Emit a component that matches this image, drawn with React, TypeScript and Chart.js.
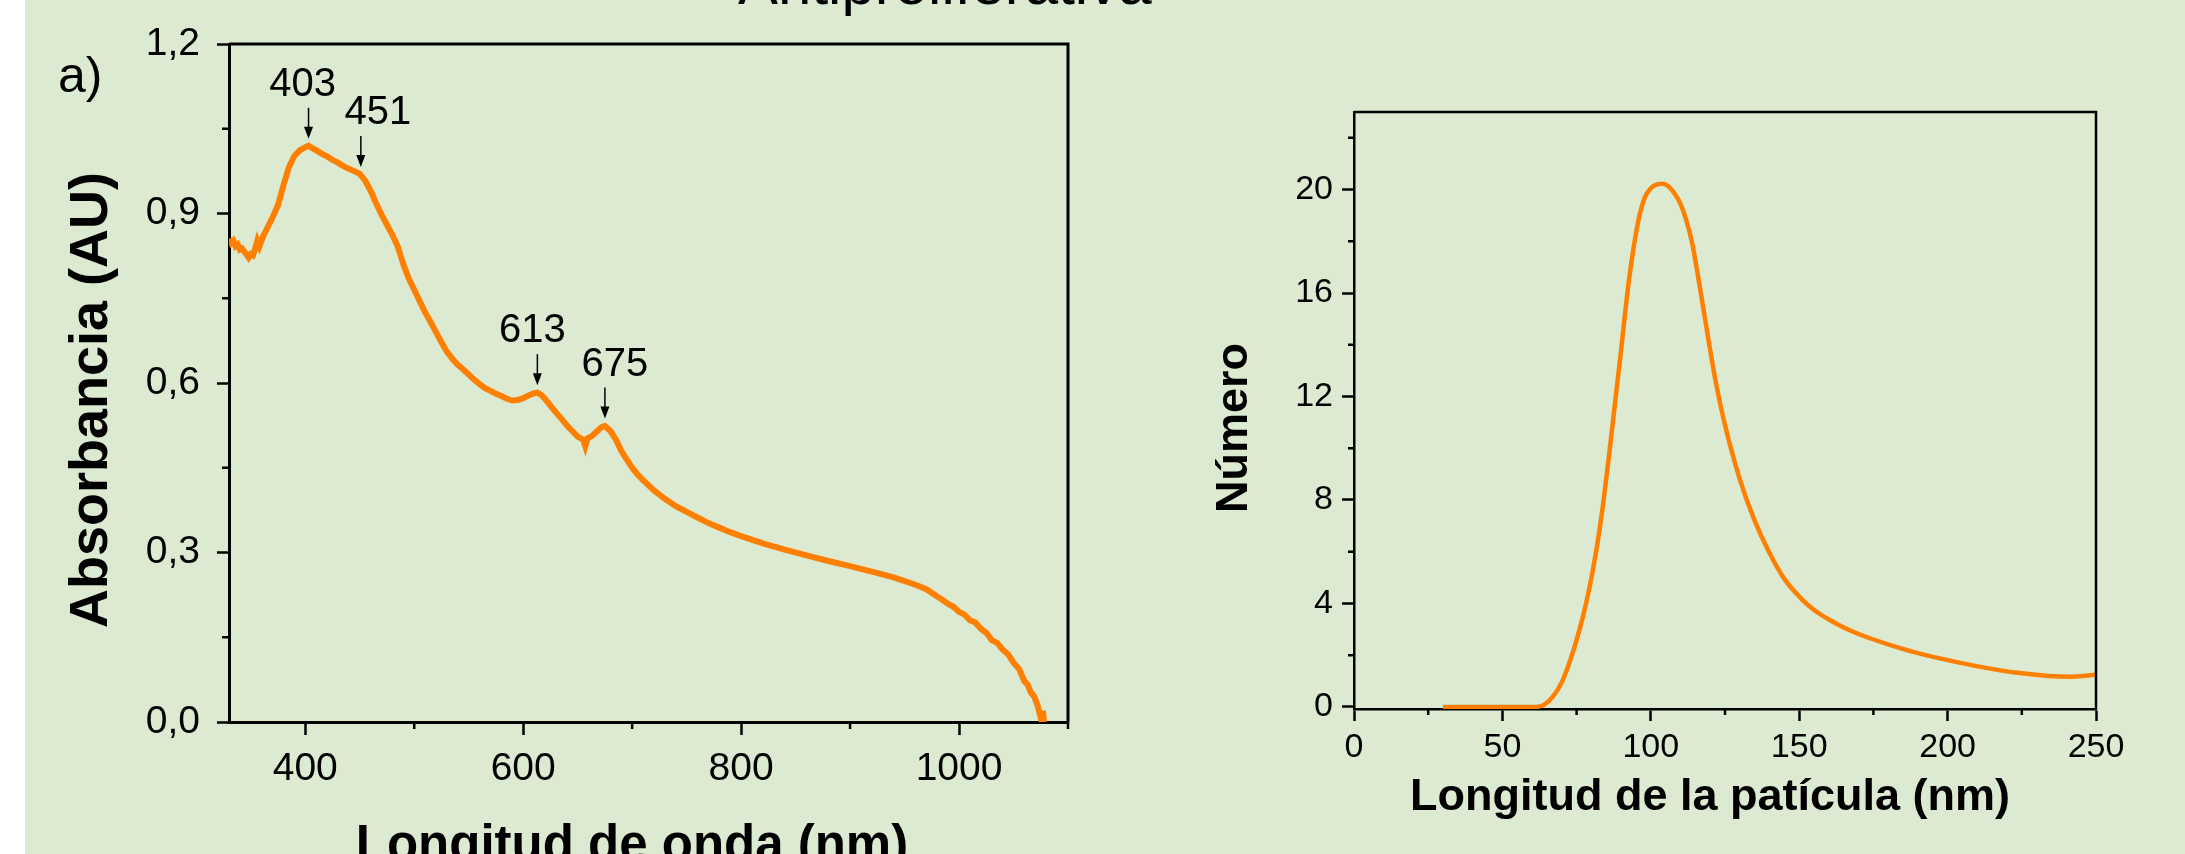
import React, { useEffect, useRef } from "react";
import { Chart, registerables } from "chart.js";
Chart.register(...registerables);

// ---------- Left chart: UV-Vis spectrum ----------
const wavelengthNm = [
  330, 332, 334, 336, 338, 340, 342, 345, 348, 350, 352, 354, 356, 358, 361, 365, 370, 375, 380, 385,
  390, 395, 400, 403, 406, 410, 415, 420, 425, 430, 435, 440, 445, 450, 455, 460, 465, 470, 475, 480,
  485, 490, 495, 500, 505, 510, 515, 520, 525, 530, 535, 540, 545, 550, 555, 560, 565, 570, 575, 580,
  585, 590, 595, 600, 605, 610, 613, 617, 620, 625, 630, 635, 640, 645, 650, 655, 657, 659, 663, 668,
  672, 675, 680, 685, 690, 695, 700, 705, 710, 720, 730, 740, 750, 760, 770, 780, 790, 800, 820, 840,
  860, 880, 900, 920, 940, 960, 970, 980, 985, 990, 995, 1000, 1005, 1010, 1015, 1020, 1025, 1030, 1035, 1040,
  1045, 1050, 1055, 1060, 1063, 1066, 1069, 1072, 1074, 1076, 1077, 1078,
];
const absorbance = [
  0.855, 0.848, 0.852, 0.842, 0.845, 0.836, 0.838, 0.83, 0.822, 0.828, 0.826, 0.838, 0.852, 0.842, 0.858, 0.874, 0.893, 0.915, 0.95, 0.982,
  1.002, 1.012, 1.017, 1.02, 1.016, 1.012, 1.006, 1.001, 0.995, 0.99, 0.984, 0.979, 0.975, 0.97, 0.958, 0.94, 0.918, 0.898, 0.88, 0.862,
  0.841, 0.81, 0.785, 0.765, 0.745, 0.725, 0.708, 0.69, 0.672, 0.655, 0.643, 0.632, 0.624, 0.615, 0.606, 0.598, 0.591, 0.586, 0.581, 0.577,
  0.572, 0.569, 0.57, 0.573, 0.578, 0.582, 0.583, 0.578, 0.572, 0.56, 0.548, 0.537, 0.525, 0.515, 0.505, 0.5, 0.488, 0.502, 0.506, 0.515,
  0.522, 0.524, 0.515, 0.5, 0.48, 0.465, 0.45, 0.438, 0.428, 0.41, 0.395, 0.382, 0.372, 0.362, 0.352, 0.344, 0.336, 0.329, 0.316, 0.305,
  0.295, 0.285, 0.276, 0.266, 0.256, 0.243, 0.235, 0.222, 0.216, 0.209, 0.204, 0.195, 0.19, 0.18, 0.176, 0.165, 0.158, 0.145, 0.14, 0.128,
  0.12, 0.105, 0.094, 0.072, 0.066, 0.052, 0.045, 0.03, 0.015, 0.0, 0.02, 0.0,
];
const peakLabels = ["403", "451", "613", "675"];
const peakNm = [403, 451, 613, 675];
const peakAbs = [1.018, 0.968, 0.582, 0.523];
const absXTicks = [400, 600, 800, 1000];
const absXMinor = [500, 700, 900, 1100];
const absYTicks = [0, 0.3, 0.6, 0.9, 1.2];
const absYMinor = [0.15, 0.45, 0.75, 1.05];

// ---------- Right chart: particle size distribution ----------
const sizeNm = [
  30, 40, 50, 60, 62, 64, 67, 70, 73, 76, 78, 80, 82, 84, 86, 88, 90, 92, 94, 96,
  98, 100, 102, 104, 106, 108, 110, 112, 114, 116, 118, 120, 122, 125, 130, 135, 140, 145, 151, 155,
  160, 165, 170, 181, 190, 202, 212, 223.5, 234, 242, 250,
];
const particleCount = [
  0, 0, 0, 0, 0.01, 0.08, 0.4, 0.95, 1.85, 3.0, 3.9, 5.0, 6.3, 7.9, 9.8, 11.8, 13.8, 15.9, 17.6, 18.9,
  19.7, 20.05, 20.2, 20.23, 20.12, 19.85, 19.45, 18.8, 17.9, 16.6, 15.2, 13.8, 12.5, 10.9, 8.8, 7.2, 5.95, 4.95, 4.15, 3.75,
  3.38, 3.07, 2.82, 2.38, 2.08, 1.76, 1.53, 1.32, 1.2, 1.17, 1.24,
];
const sizeXTicks = [0, 50, 100, 150, 200, 250];
const sizeXMinor = [25, 75, 125, 175, 225];
const sizeYTicks = [0, 4, 8, 12, 16, 20];
const sizeYMinor = [2, 6, 10, 14, 18, 22];

const FONT = "'Liberation Sans', Arial, sans-serif";
const ORANGE = "#FF7F00";
const BG = "#DBEAD1";

const decorPlugin = {
  id: "decor",
  afterDraw(chart: any, _args: any, opts: any) {
    const ctx = chart.ctx;
    const { left, right, top, bottom } = chart.chartArea;
    const xs = chart.scales.x;
    const ys = chart.scales.y;
    ctx.save();
    ctx.strokeStyle = "#000";
    ctx.lineWidth = opts.frameWidth;
    ctx.beginPath();
    ctx.moveTo(left, top);
    ctx.lineTo(right, top);
    ctx.lineTo(right, bottom);
    ctx.stroke();
    ctx.lineWidth = opts.tickWidth;
    ctx.beginPath();
    (opts.xMinor || []).forEach((v: number) => {
      const px = xs.getPixelForValue(v);
      ctx.moveTo(px, bottom);
      ctx.lineTo(px, bottom + opts.minorLen);
    });
    (opts.yMinor || []).forEach((v: number) => {
      const py = ys.getPixelForValue(v);
      ctx.moveTo(left - opts.minorLen, py);
      ctx.lineTo(left, py);
    });
    ctx.stroke();

    // peak annotations
    if (opts.peaks) {
      const p = opts.peaks;
      ctx.fillStyle = "#000";
      ctx.font = `${p.fontSize}px ${FONT}`;
      ctx.textAlign = "center";
      ctx.textBaseline = "alphabetic";
      p.labels.forEach((lab: string, i: number) => {
        const px = xs.getPixelForValue(p.x[i]);
        const py = ys.getPixelForValue(p.y[i]);
        const tip = py - 8;
        const topY = tip - 31;
        ctx.lineWidth = 1.5;
        ctx.beginPath();
        ctx.moveTo(px, topY);
        ctx.lineTo(px, tip - 10);
        ctx.stroke();
        ctx.beginPath();
        ctx.moveTo(px - 4.5, tip - 12);
        ctx.lineTo(px + 4.5, tip - 12);
        ctx.lineTo(px, tip);
        ctx.closePath();
        ctx.fill();
        ctx.fillText(lab, px + p.dx[i], topY - 12);
      });
    }

    // axis titles
    ctx.fillStyle = "#000";
    ctx.textAlign = "center";
    ctx.textBaseline = "middle";
    if (opts.xTitle) {
      const t = opts.xTitle;
      ctx.font = `bold ${t.size}px ${FONT}`;
      ctx.fillText(t.text, t.x, t.y);
    }
    if (opts.yTitle) {
      const t = opts.yTitle;
      ctx.font = `bold ${t.size}px ${FONT}`;
      ctx.translate(t.x, t.y);
      ctx.rotate(-Math.PI / 2);
      ctx.fillText(t.text, 0, 0);
    }
    ctx.restore();
  },
};

function makeScales(cfg: any) {
  return {
    x: {
      type: "linear",
      min: cfg.xMin,
      max: cfg.xMax,
      afterFit: (s: any) => {
        s.height = cfg.xHeight;
      },
      afterBuildTicks: (s: any) => {
        s.ticks = cfg.xTicks.map((v: number) => ({ value: v }));
      },
      ticks: {
        color: "#000",
        font: { family: FONT, size: cfg.tickFont },
        padding: cfg.xTickPad,
        maxRotation: 0,
        autoSkip: false,
        callback: (v: any) => String(v),
      },
      grid: {
        drawOnChartArea: false,
        drawTicks: true,
        tickLength: cfg.xTickLen,
        tickWidth: cfg.tickWidth,
        tickColor: "#000",
      },
      border: { display: true, color: "#000", width: cfg.frameWidth },
      title: { display: false },
    },
    y: {
      type: "linear",
      min: cfg.yMin,
      max: cfg.yMax,
      afterFit: (s: any) => {
        s.width = cfg.yWidth;
      },
      afterBuildTicks: (s: any) => {
        s.ticks = cfg.yTicks.map((v: number) => ({ value: v }));
      },
      ticks: {
        color: "#000",
        font: { family: FONT, size: cfg.tickFont },
        padding: cfg.yTickPad,
        autoSkip: false,
        callback: cfg.yFmt,
      },
      grid: {
        drawOnChartArea: false,
        drawTicks: true,
        tickLength: cfg.yTickLen,
        tickWidth: cfg.tickWidth,
        tickColor: "#000",
      },
      border: { display: true, color: "#000", width: cfg.frameWidth },
      title: { display: false },
    },
  };
}

function SpectrumChart() {
  const ref = useRef<HTMLCanvasElement | null>(null);
  useEffect(() => {
    if (!ref.current) return;
    const chart = new Chart(ref.current, {
      type: "line",
      data: {
        datasets: [
          {
            data: wavelengthNm.map((x, i) => ({ x, y: absorbance[i] })),
            borderColor: ORANGE,
            borderWidth: 6,
            pointRadius: 0,
            tension: 0,
            fill: false,
          },
        ],
      },
      options: {
        responsive: false,
        maintainAspectRatio: false,
        animation: false,
        layout: { padding: { left: 40, right: 82, top: 44, bottom: 0 } },
        plugins: {
          legend: { display: false },
          tooltip: { enabled: false },
          decor: {
            frameWidth: 3,
            tickWidth: 2.5,
            minorLen: 7,
            xMinor: absXMinor,
            yMinor: absYMinor,
            peaks: {
              labels: peakLabels,
              x: peakNm,
              y: peakAbs,
              dx: [-6, 17, -5, 10],
              fontSize: 40,
            },
            xTitle: { text: "Longitud de onda (nm)", size: 51, x: 632, y: 847 },
            yTitle: { text: "Absorbancia (AU)", size: 54, x: 92, y: 400 },
          },
        } as any,
        scales: makeScales({
          xMin: 330,
          xMax: 1100,
          xHeight: 178,
          xTicks: absXTicks,
          tickFont: 39,
          xTickPad: 11,
          xTickLen: 13,
          tickWidth: 2.5,
          frameWidth: 3,
          yMin: 0,
          yMax: 1.2,
          yWidth: 189,
          yTicks: absYTicks,
          yTickPad: 17,
          yTickLen: 12,
          yFmt: (v: any) => Number(v).toFixed(1).replace(".", ","),
        }) as any,
      },
      plugins: [decorPlugin],
    });
    return () => chart.destroy();
  }, []);
  return (
    <canvas
      ref={ref}
      width={1150}
      height={900}
      style={{ position: "absolute", left: 0, top: 0, width: 1150, height: 900 }}
    />
  );
}

function SizeChart() {
  const ref = useRef<HTMLCanvasElement | null>(null);
  useEffect(() => {
    if (!ref.current) return;
    const chart = new Chart(ref.current, {
      type: "line",
      data: {
        datasets: [
          {
            data: sizeNm.map((x, i) => ({ x, y: particleCount[i] })),
            borderColor: ORANGE,
            borderWidth: 4.5,
            pointRadius: 0,
            cubicInterpolationMode: "monotone",
            fill: false,
          },
        ],
      },
      options: {
        responsive: false,
        maintainAspectRatio: false,
        animation: false,
        layout: { padding: { left: 40, right: 89, top: 112, bottom: 0 } },
        plugins: {
          legend: { display: false },
          tooltip: { enabled: false },
          decor: {
            frameWidth: 2.5,
            tickWidth: 2.5,
            minorLen: 6,
            xMinor: sizeXMinor,
            yMinor: sizeYMinor,
            xTitle: { text: "Longitud de la patícula (nm)", size: 45, x: 560, y: 798 },
            yTitle: { text: "Número", size: 45, x: 85, y: 428 },
          },
        } as any,
        scales: makeScales({
          xMin: 0,
          xMax: 250,
          xHeight: 191,
          xTicks: sizeXTicks,
          tickFont: 34,
          xTickPad: 6,
          xTickLen: 12,
          tickWidth: 2.5,
          frameWidth: 2.5,
          yMin: -0.08,
          yMax: 23,
          yWidth: 164,
          yTicks: sizeYTicks,
          yTickPad: 9,
          yTickLen: 12,
          yFmt: (v: any) => String(v),
        }) as any,
      },
      plugins: [decorPlugin],
    });
    return () => chart.destroy();
  }, []);
  return (
    <canvas
      ref={ref}
      width={1035}
      height={900}
      style={{ position: "absolute", left: 1150, top: 0, width: 1035, height: 900 }}
    />
  );
}

export default function App() {
  return (
    <div
      style={{
        position: "fixed",
        left: 0,
        top: 0,
        width: 2185,
        height: 854,
        overflow: "hidden",
        background: "#ffffff",
      }}
    >
      <div style={{ position: "absolute", left: 25, top: 0, width: 2160, height: 854, background: BG }} />
      <div
        style={{
          position: "absolute",
          left: 738,
          top: -46,
          fontFamily: FONT,
          fontSize: 60,
          lineHeight: "60px",
          color: "#000",
          whiteSpace: "nowrap",
        }}
      >
        Antiproliferativa
      </div>
      <div
        style={{
          position: "absolute",
          left: 58,
          top: 50,
          fontFamily: FONT,
          fontSize: 50,
          lineHeight: "50px",
          color: "#000",
        }}
      >
        a)
      </div>
      <SpectrumChart />
      <SizeChart />
    </div>
  );
}
